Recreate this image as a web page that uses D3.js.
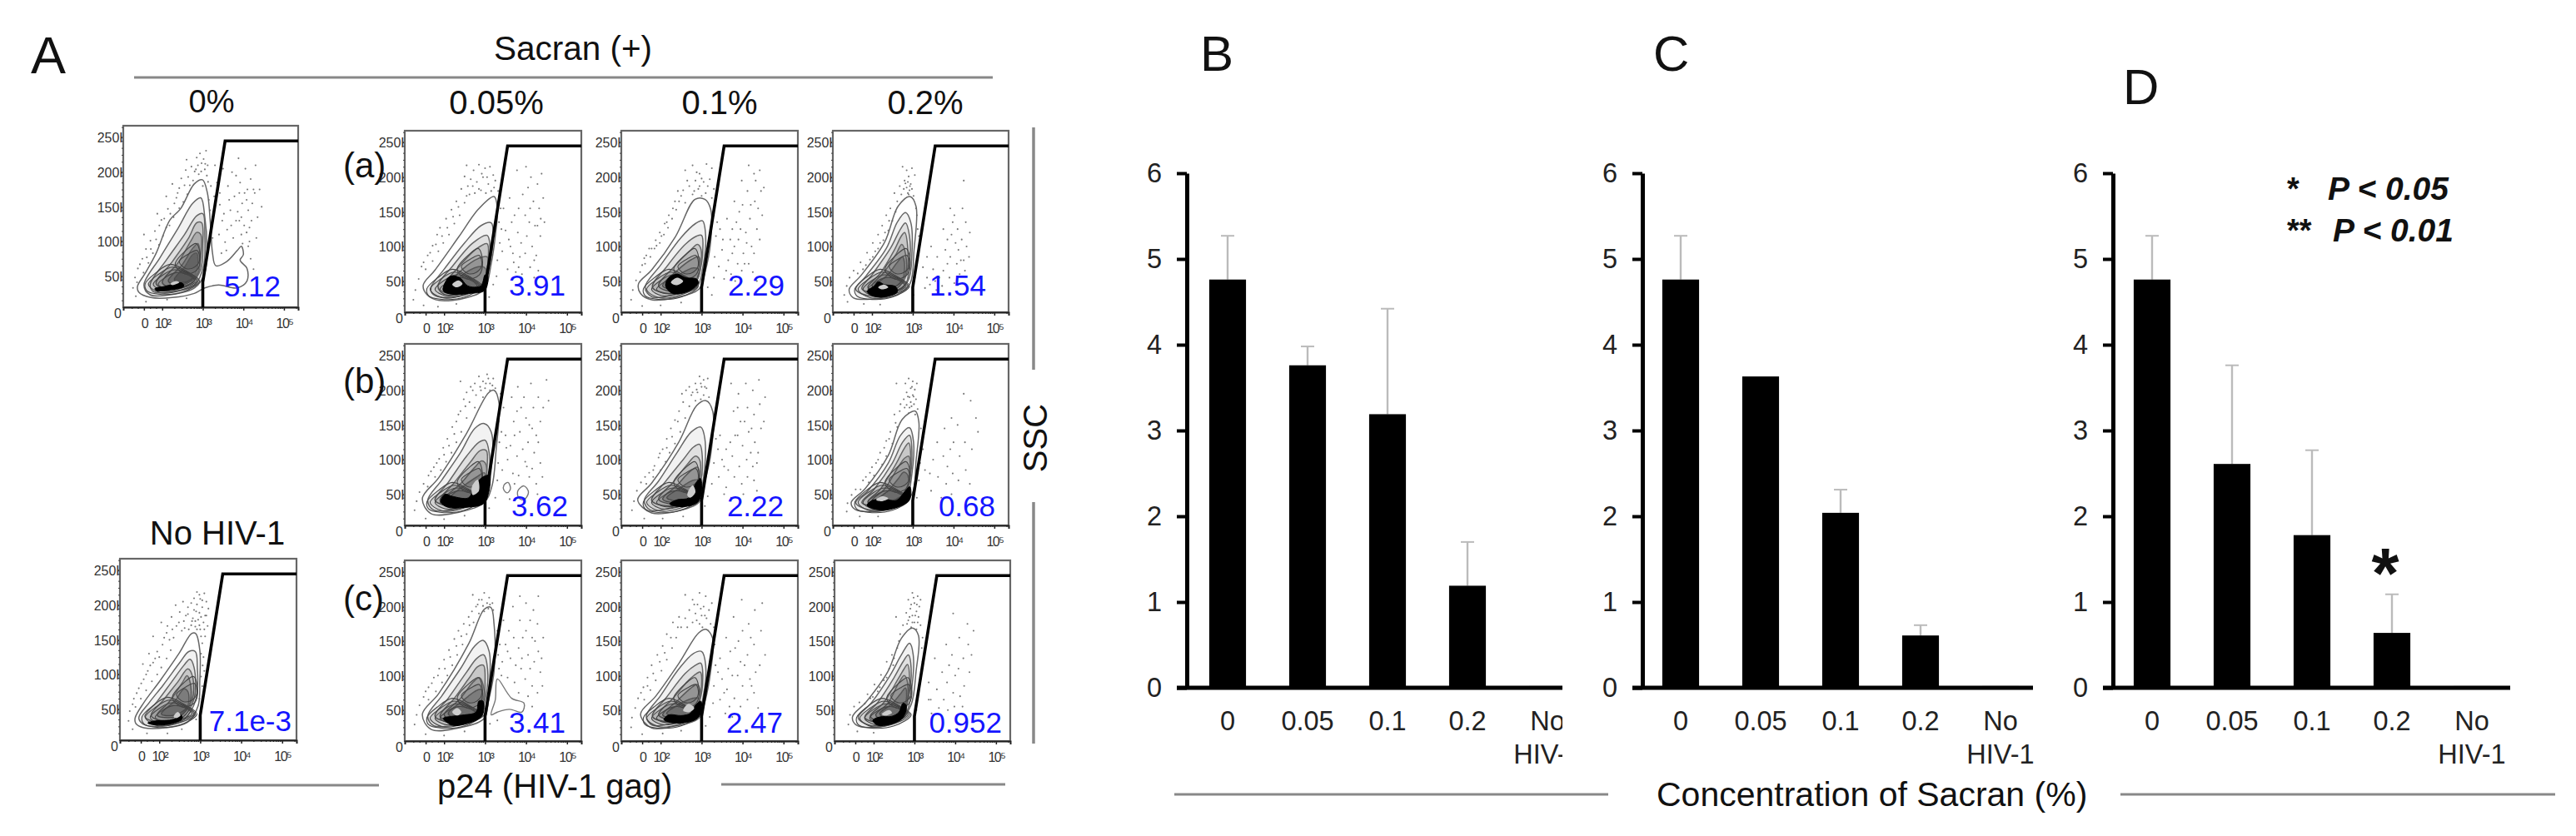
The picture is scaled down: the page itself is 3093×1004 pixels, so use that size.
<!DOCTYPE html>
<html>
<head>
<meta charset="utf-8">
<script src="https://cdn.jsdelivr.net/npm/d3@7"></script>
<style>
  html, body { margin: 0; padding: 0; background: #fff; }
  svg { display: block; font-family: "Liberation Sans", Arial, sans-serif; }
</style>
</head>
<body>
<svg id="fig" width="3093" height="1004"></svg>
<script>
// bar charts B, C, D: % p24 positive cells
const barCategories = ["0", "0.05", "0.1", "0.2", "No HIV-1"];
const barTicks = [0, 1, 2, 3, 4, 5, 6];
const barsB = [4.76, 3.76, 3.19, 1.19, 0.02];
const errsB = [5.27, 3.98, 4.42, 1.70, null];
const barsC = [4.76, 3.63, 2.04, 0.61, 0.02];
const errsC = [5.27, null, 2.31, 0.73, null];
const barsD = [4.76, 2.61, 1.78, 0.64, 0.02];
const errsD = [5.27, 3.76, 2.77, 1.09, null];

// flow plot axes: x in decades of p24, y in SSC-A (K)
const ssTicks = [0, 50, 100, 150, 200, 250];
const ssMinor = [10, 20, 30, 40, 60, 70, 80, 90, 110, 120, 130, 140, 160, 170, 180, 190, 210, 220, 230, 240, 260];
const p24Ticks = [1.55, 2, 3, 4, 5];
const p24Labels = ["0", "10²", "10³", "10⁴", "10⁵"];
const p24Minor = [1.25, 1.4, 1.7, 1.85, 2.3, 2.48, 2.6, 2.7, 2.78, 2.85, 2.9, 2.95, 3.3, 3.48, 3.6, 3.7, 3.78, 3.85, 3.9, 3.95, 4.3, 4.48, 4.6, 4.7, 4.78, 4.85, 4.9, 4.95, 5.3];
const gate = [[3, 0], [3, 36], [3.55, 240], [5.35, 240]];

// percent in gate
const gateLabels = ["5.12", "3.91", "2.29", "1.54", "3.62", "2.22", "0.68", "3.41", "2.47", "0.952", "7.1e-3"];

// tight contours of the dense low corner, alike in every plot
const lowRings = [
  [[1.58,34],[1.85,50],[2.2,62],[2.6,52],[2.92,38],[2.5,22],[1.9,19],[1.62,24]],
  [[1.66,33],[1.92,48],[2.25,58],[2.62,50],[2.88,38],[2.48,25],[1.95,21]],
  [[1.78,33],[2,46],[2.3,54],[2.64,48],[2.84,38],[2.45,27],[2.02,24]],
  [[1.9,33],[2.1,44],[2.35,50],[2.66,46],[2.8,38],[2.42,29],[2.1,27]],
  [[2.32,62],[2.62,84],[2.84,92],[2.94,72],[2.86,54],[2.55,48]],
  [[2.42,66],[2.68,78],[2.86,82],[2.92,68],[2.8,58],[2.58,56]]
];

// contour rings, outer to inner: [decade, SSC K]
const rings0 = [
  [[1.39,30],[1.59,50],[1.85,78],[2.19,126],[2.45,142],[2.79,178],[2.99,184],[3.11,166],[3.19,118],[3.24,78],[3.32,60],[3.59,66],[3.85,82],[3.95,88],[4,76],[3.92,68],[4.09,56],[4.09,38],[3.85,28],[3.39,32],[3.05,28],[2.79,20],[2.25,14],[1.72,14],[1.42,22]],
  [[1.55,32],[1.95,72],[2.4,115],[2.75,150],[2.95,158],[3.05,130],[3.1,90],[3.05,50],[2.8,28],[2.2,18],[1.7,18]],
  [[1.7,32],[2.1,68],[2.55,105],[2.85,132],[3,135],[3.05,105],[3.02,60],[2.8,32],[2.2,22],[1.8,22]],
  [[1.85,34],[2.25,66],[2.65,100],[2.85,122],[2.97,122],[3,90],[2.95,55],[2.7,34],[2.2,26]],
  [[2,36],[2.4,65],[2.7,95],[2.85,108],[2.95,105],[2.95,75],[2.85,45],[2.5,32],[2.15,30]],
  [[2.15,38],[2.5,62],[2.75,85],[2.88,92],[2.93,78],[2.88,50],[2.6,36],[2.3,33]],
  [[2.3,40],[2.55,58],[2.75,76],[2.85,78],[2.87,58],[2.75,42],[2.5,36]]
];
const core0 = [[1.82,27],[2.05,30],[2.49,35],[2.53,30],[2.19,25],[1.85,24]];
const hole0 = [[2.2,34],[2.35,38],[2.42,36],[2.25,32]];
const events0 = [[2.93,222],[3.02,214],[2.88,205],[3.05,199],[2.97,208],[2.8,196],[3.1,190],[2.72,203],[2.64,188],[2.9,192],[3.13,181],[2.55,176],[2.76,183],[2.47,186],[2.38,165],[2.62,163],[2.3,150],[2.52,152],[2.14,142],[2.42,143],[2.05,128],[2.28,130],[1.93,118],[2.18,118],[1.82,110],[2.02,103],[1.71,96],[1.92,90],[1.6,84],[1.77,78],[1.51,70],[1.66,64],[1.4,56],[1.54,50],[1.33,43],[1.28,28],[1.35,16],[1.6,8],[2.12,11],[2.6,13],[3.18,140],[3.22,120],[3.24,100],[3.15,155],[3,175],[2.85,216],[3.08,226],[2.6,213],[2.25,178],[2.1,160],[1.88,135],[1.55,105],
  [3.35,180],[3.42,148],[3.48,125],[3.4,105],[3.55,94],[3.62,175],[3.68,140],[3.6,112],[3.72,195],[3.78,160],[3.82,125],[3.75,100],[3.88,215],[3.92,180],[3.97,150],[3.86,138],[4.02,118],[3.95,105],[4.05,200],[4.1,170],[4.12,140],[4.08,108],[4.18,185],[4.22,150],[4.2,125],[4.15,95],[4.3,205],[4.28,165],[4.35,130],[4.32,100],[4.4,170],[3.5,200],[3.3,205],[3.46,78],[4.18,70],[4.25,55],[3.9,125],[3.98,92],[4.03,165],[4.45,145],
  [2.96,196],[3.06,207],[2.83,199],[2.68,176],[2.58,198],[2.42,172],[2.35,158],[2.2,135],[2.1,115],[1.98,126],[1.85,98],[1.72,84],[1.62,72],[1.45,62],[1.38,36],[3.2,175],[3.12,205],[3.28,160],[3.9,165],[3.82,190],[3.95,130],[4.08,155],[4.15,115],[3.7,118],[3.65,155],[3.52,135],[3.42,165],[3.58,82],[4.25,170],[4.12,88]];

const ringsA05 = [
  [[1.49,39],[1.78,61],[2.36,109],[2.84,149],[3.22,167],[3.3,150],[3.25,110],[3.15,70],[2.98,33],[2.55,21],[1.88,17],[1.59,25]],
  [[1.68,36],[2,62],[2.5,100],[2.9,125],[3.15,129],[3.2,110],[3.12,70],[2.95,38],[2.5,25],[1.9,22],[1.7,28]],
  [[1.85,38],[2.2,66],[2.7,100],[3.05,111],[3.12,95],[3.08,65],[2.92,38],[2.5,28],[2,26]],
  [[2,38],[2.35,65],[2.8,92],[3.05,99],[3.08,80],[3,50],[2.85,36],[2.4,30],[2.1,30]],
  [[2.1,38],[2.45,62],[2.85,78],[3.05,80],[3.05,60],[2.95,42],[2.5,32],[2.2,32]],
  [[2.2,38],[2.55,58],[2.9,66],[3.02,62],[3,45],[2.8,36],[2.4,33]]
];
const coreA05 = [[1.98,31],[2.02,42],[2.15,52],[2.38,50],[2.58,38],[2.9,38],[3,54],[3.06,54],[3,32],[2.6,27],[2.2,26]];
const holeA05 = [[2.2,40],[2.35,46],[2.45,41],[2.3,36]];
const eventsA05 = [[2.55,212],[2.72,205],[2.85,213],[3,208],[3.12,210],[3.2,198],[2.95,195],[2.8,188],[2.65,192],[3.08,185],[3.22,180],[2.5,196],[2.9,176],[2.75,172],[3.02,172],[2.62,170],[2.42,178],[2.5,158],[2.3,160],[2.38,140],[2.18,148],[2.25,128],[2.05,135],[2.12,112],[1.9,122],[1.98,100],[1.83,112],[1.86,88],[1.72,96],[1.72,74],[1.6,82],[1.55,62],[1.45,66],[1.38,48],[1.3,32],[1.25,18],[1.5,10],[1.85,8],[2.3,12],[3.32,175],[3.34,130],[3.36,100],[3.3,75],[3.2,40],[3.28,52],[3.1,22],
  [3.42,190],[3.45,150],[3.5,118],[3.42,88],[3.55,62],[3.6,165],[3.65,130],[3.62,95],[3.7,72],[3.78,205],[3.82,150],[3.8,115],[3.85,80],[3.75,58],[4,210],[4.05,180],[3.98,140],[4.02,110],[3.98,85],[4.12,195],[4.18,160],[4.22,125],[4.15,95],[4.1,65],[4.28,185],[4.32,150],[4.35,110],[4.25,82],[4.38,200],[4.42,165],[4.3,60],[4.45,130],[4.2,50],[3.9,55],
  [2.92,200],[3.05,195],[2.7,182],[2.85,178],[2.58,182],[2.55,168],[2.35,152],[2.22,138],[2.08,122],[1.95,110],[1.8,98],[1.66,86],[1.5,72],[3.15,175],[3.25,190],[3.4,120],[3.38,150],[3.58,105],[3.72,140],[3.68,85],[3.88,100],[3.92,170],[4.08,130],[4.1,150],[4.2,75],[4.28,125],[4.36,135],[3.82,65]];

const ringsA1 = [
  [[1.46,41],[1.78,61],[2.36,109],[2.84,163],[3.08,163],[3.22,149],[3.22,101],[3.08,57],[2.93,33],[2.36,21],[1.78,18],[1.51,27]],
  [[1.62,36],[2,68],[2.5,108],[2.85,128],[3.02,132],[3.1,110],[3.03,65],[2.88,36],[2.3,25],[1.8,22]],
  [[1.8,36],[2.15,66],[2.6,98],[2.88,110],[3,111],[3.03,90],[2.95,58],[2.75,34],[2.2,27]],
  [[1.95,38],[2.3,64],[2.7,88],[2.9,98],[2.98,92],[2.97,65],[2.8,40],[2.3,30]],
  [[2.05,38],[2.4,60],[2.75,76],[2.93,80],[2.97,62],[2.85,44],[2.4,33]],
  [[2.15,40],[2.5,56],[2.8,64],[2.93,62],[2.9,48],[2.5,35]]
];
const coreA1 = [[2.12,38],[2.2,50],[2.4,55],[2.6,50],[2.88,48],[2.92,42],[2.7,31],[2.3,27]];
const holeA1 = [[2.25,43],[2.4,50],[2.55,45],[2.4,39]];
const eventsA1 = [[2.6,205],[2.78,212],[2.95,200],[3.12,214],[3.25,208],[2.85,190],[3.05,188],[3.2,192],[2.7,182],[2.92,178],[3.1,172],[3.3,178],[2.55,176],[2.78,170],[2.45,160],[3,168],[2.38,148],[2.6,158],[2.28,135],[2.5,168],[2.18,122],[2.35,160],[2.08,112],[2.2,140],[1.98,100],[2.1,128],[1.85,92],[1.98,115],[1.75,80],[1.88,104],[1.62,70],[1.72,92],[1.5,58],[1.6,78],[1.4,46],[1.32,32],[1.28,18],[1.55,9],[2,10],[2.5,14],[3.3,140],[3.35,110],[3.32,80],[3.3,50],[3.15,36],[3.25,25],
  [3.45,120],[3.5,90],[3.42,66],[3.55,48],[3.62,135],[3.7,105],[3.65,75],[3.72,55],[3.8,160],[3.85,130],[3.8,95],[3.88,70],[3.82,45],[3.98,190],[4,155],[3.95,120],[4.02,85],[3.98,60],[4.15,212],[4.12,175],[4.18,135],[4.1,100],[4.15,70],[4.28,200],[4.3,160],[4.35,120],[4.28,85],[4.25,58],[4.42,205],[4.45,175],[4.48,140],[4.42,105],[4.52,180],[4.35,45],
  [2.88,202],[3,193],[2.95,182],[3.15,182],[2.82,175],[2.65,190],[2.42,175],[2.3,150],[2.15,130],[2.02,110],[1.9,96],[1.78,92],[1.65,82],[1.55,68],[3.25,165],[3.38,130],[3.52,105],[3.75,85],[3.9,105],[3.92,145],[4.08,115],[4.2,155],[4.22,95],[4.38,150],[4.32,190],[4.05,70],[3.6,60],[3.75,120]];

const ringsA2 = [
  [[1.44,33],[1.73,53],[2.31,101],[2.64,153],[2.93,167],[3.08,153],[3.03,89],[2.93,41],[2.6,25],[2.02,19],[1.54,21]],
  [[1.6,33],[1.85,52],[2.35,92],[2.62,130],[2.82,144],[2.95,130],[2.98,85],[2.88,45],[2.5,28],[2,23]],
  [[1.75,34],[2,54],[2.45,92],[2.7,120],[2.82,129],[2.92,110],[2.92,70],[2.8,38],[2.3,28]],
  [[1.9,36],[2.2,56],[2.55,90],[2.72,110],[2.8,115],[2.88,90],[2.85,55],[2.6,34],[2.15,30]],
  [[2,38],[2.3,58],[2.6,85],[2.73,98],[2.82,85],[2.82,55],[2.55,36],[2.2,33]],
  [[2.1,38],[2.4,55],[2.62,72],[2.75,80],[2.8,65],[2.7,42],[2.3,34]]
];
const coreA2 = [[1.88,30],[2.05,38],[2.15,44],[2.3,40],[2.58,37],[2.62,29],[2.3,22],[2,24]];
const holeA2 = [[2.15,36],[2.3,40],[2.4,36],[2.25,33]];
const eventsA2 = [[2.75,210],[2.85,205],[2.98,208],[3.05,198],[2.9,196],[2.8,190],[2.95,185],[2.85,180],[2.92,176],[2.78,178],[2.98,178],[2.88,172],[2.72,170],[3.02,168],[2.55,172],[2.62,160],[2.45,150],[2.5,132],[2.35,140],[2.4,118],[2.25,125],[2.28,104],[2.15,112],[2.15,92],[2.02,100],[2.02,80],[1.88,86],[1.85,68],[1.72,72],[1.65,56],[1.55,60],[1.45,50],[1.38,38],[1.32,25],[1.4,15],[1.8,12],[2.2,11],[3.1,140],[3.12,120],[3.14,95],[3.1,70],[3.05,50],[3.02,25],
  [3.25,65],[3.35,50],[3.3,35],[3.45,95],[3.5,62],[3.42,40],[3.6,80],[3.65,50],[3.58,32],[3.75,120],[3.8,90],[3.75,60],[3.72,38],[3.92,150],[3.95,112],[3.92,80],[3.9,50],[4.02,140],[4.05,100],[4.08,70],[4.02,42],[4.2,105],[4.18,75],[4.15,55],[4.25,190],[4.3,130],[4.32,95],[4.28,60],[4.4,115],[4.38,80],[4.22,150],
  [2.88,188],[2.93,182],[2.82,186],[2.9,170],[2.68,182],[2.58,145],[2.42,132],[2.32,115],[2.2,100],[2.08,88],[1.95,76],[1.78,62],[3.15,110],[3.08,150],[3.35,80],[3.55,45],[3.85,70],[3.98,130],[4.12,90],[4.1,120],[4.25,75],[3.85,105]];

const ringsB05 = [
  [[1.47,39],[1.87,69],[2.55,133],[3.08,191],[3.22,195],[3.34,177],[3.27,109],[3.17,57],[2.98,33],[2.36,19],[1.68,17]],
  [[1.6,36],[1.95,66],[2.4,105],[2.75,140],[2.98,147],[3.15,135],[3.15,80],[2.98,38],[2.4,25],[1.75,22]],
  [[1.78,36],[2.1,62],[2.55,100],[2.85,120],[3,123],[3.1,105],[3.08,65],[2.9,38],[2.3,28]],
  [[1.9,36],[2.25,62],[2.65,92],[2.88,108],[3.03,108],[3.05,85],[2.98,55],[2.7,34],[2.2,30]],
  [[2,38],[2.4,60],[2.75,84],[2.92,93],[3.02,88],[3,60],[2.8,40],[2.3,33]],
  [[2.15,40],[2.5,58],[2.8,70],[2.98,76],[3,60],[2.8,42],[2.4,36]]
];
const coreB05 = [[1.92,34],[2.02,45],[2.2,42],[2.6,40],[2.75,58],[2.95,70],[3.1,72],[3.08,45],[2.95,31],[2.5,26],[2.1,26]];
const holeB05 = [[2.7,44],[2.68,56],[2.82,66],[2.85,50]];
const loopsB05 = [[[3.46,58],[3.56,62],[3.62,53],[3.54,47],[3.46,51]], [[3.8,50],[3.95,57],[4.06,48],[3.95,37],[3.82,40]]];
const eventsB05 = [[2.85,215],[2.95,208],[3.05,218],[3.12,205],[3.2,212],[2.75,205],[3,198],[3.12,195],[3.25,198],[2.65,200],[2.9,195],[2.4,208],[2.55,192],[2.78,188],[2.95,185],[2.62,178],[2.48,182],[2.75,170],[2.4,165],[2.55,155],[2.3,150],[2.42,135],[2.2,142],[2.3,120],[2.08,125],[2.18,105],[1.98,112],[2.05,92],[1.88,96],[1.92,80],[1.75,84],[1.78,70],[1.62,72],[1.6,56],[1.5,60],[1.4,48],[1.33,35],[1.28,22],[1.55,10],[2,9],[2.5,14],[3.33,150],[3.35,120],[3.32,90],[3.3,65],[3.25,40],[3.1,25],
  [3.45,170],[3.5,130],[3.55,95],[3.42,80],[3.65,185],[3.7,150],[3.62,115],[3.68,75],[3.8,200],[3.78,165],[3.85,135],[3.78,100],[3.82,72],[3.95,185],[4,155],[4.05,120],[3.98,92],[4.08,70],[4.12,205],[4.18,170],[4.15,140],[4.2,105],[4.15,82],[4.25,60],[4.3,185],[4.35,150],[4.3,120],[4.35,90],[4.28,45],[4.42,170],[4.5,210],[4.55,180],[4.4,70],[3.6,38],
  [3.02,205],[2.88,200],[3.18,202],[3.08,212],[2.7,195],[2.52,172],[2.35,160],[2.25,132],[2.12,115],[2,102],[1.82,90],[1.68,78],[3.38,190],[3.4,135],[3.52,112],[3.72,130],[3.88,170],[3.92,110],[4.08,145],[4.25,130],[4.02,85],[3.72,60]];

const ringsB1 = [
  [[1.44,37],[1.78,61],[2.45,121],[2.88,173],[3.11,180],[3.27,165],[3.22,101],[3.03,53],[2.93,33],[2.36,20],[1.78,18]],
  [[1.6,36],[1.95,64],[2.4,105],[2.75,135],[2.98,142],[3.08,125],[3.05,70],[2.88,36],[2.3,26],[1.75,22]],
  [[1.78,36],[2.1,62],[2.55,95],[2.8,113],[2.95,117],[3.02,95],[2.95,58],[2.7,36],[2.2,28]],
  [[1.95,38],[2.3,62],[2.65,88],[2.85,100],[2.95,95],[2.95,65],[2.75,40],[2.3,31]],
  [[2.05,38],[2.4,58],[2.72,78],[2.9,84],[2.95,65],[2.8,42],[2.35,33]],
  [[2.15,40],[2.5,55],[2.78,65],[2.92,65],[2.88,48],[2.5,35]]
];
const coreB1 = [[2.22,31],[2.4,37],[2.7,40],[2.85,60],[2.97,68],[3,50],[2.9,33],[2.5,27]];
const holeB1 = [[2.65,44],[2.78,58],[2.85,48],[2.72,40]];
const eventsB1 = [[2.95,215],[3.05,210],[3.15,212],[2.85,205],[3,200],[3.12,198],[2.7,200],[2.9,192],[3.05,188],[2.75,188],[2.62,195],[3.18,185],[2.85,180],[2.55,178],[2.7,172],[2.45,165],[2.6,155],[2.35,152],[2.48,135],[2.25,140],[2.35,118],[2.15,125],[2.22,105],[2.05,110],[2.12,92],[1.95,98],[2,80],[1.85,86],[1.82,70],[1.72,76],[1.65,60],[1.52,62],[1.42,50],[1.35,35],[1.3,22],[1.6,10],[2.05,10],[2.55,13],[3.32,160],[3.35,125],[3.3,90],[3.25,60],[3.15,42],[3.08,28],
  [3.45,130],[3.5,95],[3.42,70],[3.55,45],[3.6,110],[3.65,80],[3.6,55],[3.72,205],[3.78,165],[3.82,130],[3.75,100],[3.8,70],[3.72,40],[3.9,190],[3.95,150],[4,115],[3.92,85],[3.98,60],[4.08,205],[4.12,170],[4.15,135],[4.1,95],[4.12,70],[4.02,45],[4.25,195],[4.28,160],[4.3,120],[4.25,85],[4.28,65],[4.4,210],[4.42,175],[4.45,140],[4.38,105],[4.52,150],[4.55,185],[4.35,50],
  [2.98,205],[2.88,196],[3.08,200],[2.78,192],[2.98,182],[2.52,190],[2.42,150],[2.28,128],[2.15,112],[1.98,104],[1.82,80],[1.62,70],[3.35,170],[3.4,110],[3.55,85],[3.7,120],[3.88,130],[3.88,170],[4.05,150],[4.2,105],[4.35,90],[4.22,140]];

const ringsB2 = [
  [[1.49,33],[1.83,53],[2.4,101],[2.74,153],[3.06,165],[3.15,149],[3.08,93],[2.98,45],[2.6,27],[2.02,20],[1.59,23]],
  [[1.6,33],[1.9,50],[2.4,90],[2.7,130],[2.92,141],[3.02,120],[2.98,75],[2.85,42],[2.4,27],[1.9,23]],
  [[1.75,33],[2.05,52],[2.5,90],[2.75,120],[2.92,130],[2.98,105],[2.92,65],[2.75,38],[2.2,28]],
  [[1.9,34],[2.2,52],[2.6,90],[2.8,112],[2.9,119],[2.95,95],[2.88,58],[2.6,35],[2.1,29]],
  [[2,36],[2.3,52],[2.65,85],[2.8,97],[2.9,100],[2.92,75],[2.8,45],[2.3,32]],
  [[2.15,38],[2.4,50],[2.65,68],[2.78,77],[2.88,72],[2.85,50],[2.5,36]]
];
const coreB2 = [[1.88,29],[2,36],[2.3,38],[2.6,36],[2.82,50],[2.93,56],[2.93,38],[2.7,28],[2.2,22]];
const holeB2 = [[2.1,37],[2.25,42],[2.4,39],[2.25,35]];
const eventsB2 = [[2.9,212],[3,208],[3.1,205],[2.82,205],[2.95,198],[3.05,196],[2.85,192],[3,188],[2.92,185],[3.08,182],[2.78,182],[2.95,178],[3.03,175],[2.85,174],[2.92,170],[3.12,168],[2.6,205],[2.7,175],[2.55,160],[2.62,142],[2.45,135],[2.5,118],[2.35,122],[2.35,100],[2.2,105],[2.25,88],[2.1,90],[2.05,72],[1.95,76],[1.92,62],[1.78,65],[1.72,52],[1.6,52],[1.5,44],[1.4,32],[1.38,20],[1.7,13],[2.15,13],[3.2,140],[3.22,115],[3.18,90],[3.15,65],[3.1,40],
  [3.42,75],[3.5,95],[3.45,50],[3.6,120],[3.62,70],[3.7,40],[3.78,140],[3.75,100],[3.82,60],[3.95,155],[3.92,110],[3.98,75],[3.95,45],[4.1,145],[4.15,100],[4.12,65],[4.25,190],[4.28,120],[4.3,80],[4.42,180],[4.45,110],[4.55,155],[4.6,135],[4.4,60],
  [2.98,200],[2.88,186],[3.02,186],[2.97,172],[2.8,170],[2.9,162],[3.06,160],[2.68,165],[2.58,148],[2.42,125],[2.3,112],[2.15,95],[2,84],[1.85,70],[3.25,110],[3.3,80],[4,120],[3.85,85]];

const ringsC05 = [
  [[1.47,39],[1.87,69],[2.6,141],[2.98,191],[3.14,194],[3.22,169],[3.22,101],[3.08,57],[2.98,33],[2.36,19],[1.68,17]],
  [[1.6,36],[1.95,66],[2.4,105],[2.75,138],[2.95,146],[3.1,130],[3.1,80],[2.98,38],[2.4,25],[1.75,22]],
  [[1.78,36],[2.1,62],[2.55,100],[2.8,120],[2.97,125],[3.06,105],[3.02,65],[2.85,38],[2.3,27]],
  [[1.9,36],[2.25,62],[2.62,92],[2.82,108],[2.96,110],[3,85],[2.95,55],[2.65,32],[2.2,29]],
  [[2,38],[2.4,62],[2.7,85],[2.86,92],[2.96,80],[2.95,55],[2.7,34],[2.25,31]],
  [[2.1,40],[2.45,58],[2.75,72],[2.9,75],[2.95,60],[2.8,40],[2.35,32]]
];
const coreC05 = [[1.98,33],[2.2,36],[2.5,38],[2.78,42],[2.85,58],[2.95,58],[2.93,37],[2.6,26],[2.2,23]];
const holeC05 = [[2.2,42],[2.32,48],[2.42,42],[2.32,37]];
const loopsC05 = [[[3.3,90],[3.65,62],[3.95,55],[3.9,42],[3.6,46],[3.3,42],[3.15,38],[3.25,60]]];
const eventsC05 = [[2.7,212],[2.85,205],[2.98,215],[3.1,208],[3.18,200],[2.78,195],[2.95,196],[3.08,192],[2.68,188],[3.2,190],[2.85,185],[2.6,180],[2.72,172],[2.48,170],[2.55,155],[2.35,160],[2.45,140],[2.25,148],[2.32,125],[2.12,132],[2.2,110],[2,118],[2.08,95],[1.88,105],[1.95,85],[1.75,92],[1.8,72],[1.62,78],[1.62,60],[1.5,64],[1.4,52],[1.33,38],[1.28,24],[1.55,10],[2,8],[2.5,14],[3.3,160],[3.32,125],[3.34,105],[3.12,25],
  [3.45,175],[3.5,140],[3.42,115],[3.55,92],[3.45,75],[3.68,195],[3.7,150],[3.62,120],[3.72,85],[3.85,210],[3.85,175],[3.82,135],[3.88,105],[3.82,70],[4,200],[4,160],[4.05,125],[3.98,90],[4.05,65],[4.18,190],[4.15,150],[4.2,115],[4.15,80],[4.3,210],[4.28,170],[4.3,130],[4.35,100],[4.28,70],[4.42,150],[4.4,80],[4.15,50],[3.3,30],
  [2.92,205],[3.05,200],[2.98,188],[3.12,198],[2.82,198],[2.62,168],[2.42,152],[2.3,138],[2.15,122],[2.02,105],[1.85,95],[1.7,84],[1.55,72],[3.36,140],[3.4,95],[3.58,160],[3.55,130],[3.75,110],[3.92,150],[3.9,120],[4.1,105],[4.22,145],[4.1,175],[4.38,120]];

const ringsC1 = [
  [[1.51,39],[1.88,65],[2.45,113],[2.93,157],[3.11,162],[3.27,149],[3.22,101],[3.08,57],[2.93,33],[2.36,22],[1.78,19]],
  [[1.65,36],[2,66],[2.45,105],[2.8,127],[3,130],[3.1,110],[3.04,65],[2.88,36],[2.3,26],[1.8,23]],
  [[1.8,36],[2.15,64],[2.6,98],[2.85,110],[2.98,113],[3.03,92],[2.95,58],[2.72,34],[2.2,28]],
  [[1.95,38],[2.3,62],[2.68,88],[2.88,98],[2.97,100],[2.98,70],[2.8,40],[2.3,31]],
  [[2.05,38],[2.4,58],[2.72,76],[2.9,82],[2.97,65],[2.82,42],[2.38,33]],
  [[2.15,40],[2.5,55],[2.78,62],[2.93,62],[2.9,48],[2.5,35]]
];
const coreC1 = [[2.08,31],[2.2,38],[2.5,37],[2.72,40],[2.85,52],[2.98,58],[2.98,40],[2.85,31],[2.4,26]];
const holeC1 = [[2.55,44],[2.68,54],[2.82,48],[2.7,42]];
const eventsC1 = [[2.6,212],[2.78,205],[2.95,215],[3.1,210],[3.25,200],[2.9,198],[3.05,195],[3.18,190],[2.7,190],[2.85,185],[3,182],[3.12,178],[2.6,178],[2.78,172],[2.95,170],[3.22,170],[2.45,180],[2.5,165],[2.3,172],[2.38,150],[2.15,155],[2.28,135],[2.05,138],[2.15,118],[1.92,125],[2.02,102],[1.78,110],[1.88,88],[1.68,92],[1.75,74],[1.58,78],[1.6,60],[1.45,62],[1.38,48],[1.3,34],[1.28,20],[1.55,10],[2.05,11],[2.5,15],[3.32,140],[3.34,110],[3.3,80],[3.28,55],[3.2,35],[3.1,22],
  [3.45,120],[3.5,90],[3.45,60],[3.58,40],[3.6,150],[3.65,105],[3.62,75],[3.68,50],[3.78,180],[3.82,135],[3.75,95],[3.8,62],[3.75,35],[3.98,205],[4,160],[3.95,115],[4,80],[3.95,50],[4.15,170],[4.12,125],[4.18,90],[4.12,60],[4.3,190],[4.28,140],[4.32,100],[4.28,70],[4.45,160],[4.48,200],[4.42,110],[4.55,125],[4.38,48],
  [2.82,198],[2.98,192],[3.08,182],[2.88,175],[3.02,165],[2.65,165],[2.42,165],[2.25,150],[2.1,128],[1.98,115],[1.82,98],[1.68,80],[1.52,70],[3.3,165],[3.4,100],[3.55,70],[3.7,130],[3.9,145],[3.88,95],[4.05,110],[4.2,150],[4.22,80]];

const ringsC2 = [
  [[1.48,35],[1.82,57],[2.35,101],[2.68,149],[2.95,164],[3.1,153],[3.04,101],[2.92,53],[2.63,29],[2.06,20],[1.58,23]],
  [[1.62,34],[1.95,56],[2.4,95],[2.68,125],[2.88,142],[2.97,125],[2.93,75],[2.8,42],[2.4,26],[1.9,23]],
  [[1.78,34],[2.1,56],[2.5,92],[2.72,115],[2.85,125],[2.92,105],[2.86,65],[2.7,36],[2.2,27]],
  [[1.92,36],[2.25,56],[2.6,90],[2.75,105],[2.83,111],[2.88,90],[2.82,55],[2.55,33],[2.1,29]],
  [[2.05,38],[2.35,55],[2.62,85],[2.75,95],[2.83,85],[2.78,50],[2.5,34],[2.2,31]],
  [[2.15,40],[2.45,54],[2.65,68],[2.78,77],[2.8,60],[2.65,40],[2.3,33]]
];
const coreC2 = [[1.98,30],[2.15,35],[2.45,36],[2.62,42],[2.72,55],[2.8,52],[2.73,35],[2.5,26],[2.1,23]];
const holeC2 = [[2.2,39],[2.38,45],[2.45,41],[2.3,37]];
const eventsC2 = [[2.95,215],[3.08,210],[3.15,205],[2.85,205],[3,200],[3.12,195],[2.9,192],[3.05,188],[2.8,186],[2.95,182],[3.1,180],[2.85,175],[3,172],[3.15,168],[2.72,168],[2.92,165],[3.05,162],[2.65,155],[2.55,180],[2.58,135],[2.45,125],[2.48,110],[2.32,115],[2.32,92],[2.18,96],[2.15,78],[2.02,82],[1.98,64],[1.85,68],[1.78,54],[1.65,56],[1.52,50],[1.42,38],[1.38,24],[1.6,14],[2,12],[3.18,135],[3.2,115],[3.16,90],[3.1,70],[3.05,45],
  [3.35,85],[3.4,60],[3.42,40],[3.5,120],[3.55,75],[3.6,48],[3.68,100],[3.72,60],[3.78,140],[3.8,85],[3.82,45],[3.95,185],[3.92,125],[3.95,70],[3.98,50],[4.1,150],[4.08,105],[4.12,65],[4.2,120],[4.22,80],[4.18,50],[4.3,170],[4.32,140],[4.35,100],[4.4,125],[4.45,160],
  [2.98,208],[3.06,198],[2.92,198],[3.02,182],[2.88,180],[3.08,172],[2.95,172],[2.82,170],[2.62,145],[2.5,120],[2.38,105],[2.25,88],[2.1,72],[1.92,62],[3.2,150],[3.35,60],[3.85,110],[4,95]];

const ringsNo = [
  [[1.41,32],[1.62,54],[2.02,86],[2.49,126],[2.79,154],[2.89,154],[2.99,130],[2.99,86],[2.95,50],[2.69,26],[2.15,18],[1.62,18],[1.43,24]],
  [[1.5,32],[1.75,54],[2.1,80],[2.5,112],[2.72,128],[2.88,128],[2.93,105],[2.9,60],[2.6,30],[2.1,21],[1.65,22]],
  [[1.65,34],[1.95,56],[2.3,84],[2.6,108],[2.75,117],[2.85,105],[2.85,60],[2.55,32],[2.1,25]],
  [[1.8,36],[2.1,58],[2.45,84],[2.7,103],[2.82,90],[2.8,58],[2.5,34],[2.05,28]],
  [[1.95,36],[2.25,56],[2.55,82],[2.68,93],[2.77,78],[2.72,50],[2.4,34]],
  [[2.05,38],[2.4,58],[2.6,74],[2.7,70],[2.68,48],[2.35,36]]
];
const coreNo = [[1.72,25],[1.9,28],[2.35,30],[2.52,37],[2.56,31],[2.3,24],[1.9,22]];
const holeNo = [[2.35,34],[2.45,41],[2.52,36],[2.42,32]];
const eventsNo = [[2.92,214],[3.1,212],[2.85,205],[3,204],[3.15,200],[2.78,198],[2.92,196],[3.05,192],[3.2,190],[2.85,188],[2.98,184],[3.12,180],[2.7,182],[2.82,176],[2.95,174],[3.08,170],[2.78,166],[2.88,164],[3,160],[3.18,165],[2.72,160],[3.12,150],[2.6,172],[2.5,185],[2.4,195],[2.55,158],[2.42,165],[2.3,178],[2.35,148],[2.18,155],[2.28,130],[2.08,138],[2.18,118],[1.95,128],[2.05,105],[1.85,112],[1.95,95],[1.72,100],[1.82,85],[1.62,88],[1.68,72],[1.5,75],[1.55,60],[1.38,60],[1.42,48],[1.28,42],[1.25,28],[1.35,16],[1.7,10],[2.2,10],[2.55,16],[3.05,140],[3.08,120],[3.1,100],[3.05,78],[3,42],[2.9,30],[2.2,165],[2.05,170],[1.85,150],[1.75,125],[1.6,110],
  [2.98,210],[3.05,202],[2.9,186],[3.02,178],[2.88,172],[2.98,166],[2.8,172],[2.92,160],[3.1,160],[2.65,180],[2.62,162],[2.48,170],[2.32,160],[2.25,145],[2.12,148],[2,120],[1.9,118],[1.78,108],[1.68,95],[1.56,82],[1.45,68],[1.35,52],[3.02,150],[3.02,125],[3.06,108],[3.02,92],[2.98,60],[3.15,180],[2.7,192],[2.58,200]];

// frame position of each flow plot on the page
const plots = [
  {box: [148, 151, 358, 369], rings: rings0, core: core0, hole: hole0, loops: [], events: events0, labelEnd: 337, labelBase: 356},
  {box: [486, 157, 698, 375], rings: ringsA05, core: coreA05, hole: holeA05, loops: [], events: eventsA05, labelEnd: 679, labelBase: 355},
  {box: [746, 157, 958, 375], rings: ringsA1, core: coreA1, hole: holeA1, loops: [], events: eventsA1, labelEnd: 942, labelBase: 355},
  {box: [1000, 157, 1211, 375], rings: ringsA2, core: coreA2, hole: holeA2, loops: [], events: eventsA2, labelEnd: 1184, labelBase: 355},
  {box: [486, 413, 698, 631], rings: ringsB05, core: coreB05, hole: holeB05, loops: loopsB05, events: eventsB05, labelEnd: 682, labelBase: 620},
  {box: [746, 413, 958, 631], rings: ringsB1, core: coreB1, hole: holeB1, loops: [], events: eventsB1, labelEnd: 941, labelBase: 620},
  {box: [1000, 413, 1211, 631], rings: ringsB2, core: coreB2, hole: holeB2, loops: [], events: eventsB2, labelEnd: 1195, labelBase: 620},
  {box: [486, 673, 698, 890], rings: ringsC05, core: coreC05, hole: holeC05, loops: loopsC05, events: eventsC05, labelEnd: 679, labelBase: 880},
  {box: [746, 673, 958, 890], rings: ringsC1, core: coreC1, hole: holeC1, loops: [], events: eventsC1, labelEnd: 940, labelBase: 880},
  {box: [1002, 673, 1213, 890], rings: ringsC2, core: coreC2, hole: holeC2, loops: [], events: eventsC2, labelEnd: 1203, labelBase: 880},
  {box: [144, 671, 356, 889], rings: ringsNo, core: coreNo, hole: holeNo, loops: [], events: eventsNo, labelEnd: 350, labelBase: 878}
];

const svg = d3.select("#fig");
const defs = svg.append("defs");
defs.append("filter").attr("id", "soft").append("feGaussianBlur").attr("stdDeviation", 0.6);

function label(txt, x, y, size, opts = {}) {
  return svg.append("text")
    .attr("x", x).attr("y", y)
    .attr("font-size", size)
    .attr("text-anchor", opts.anchor || "start")
    .attr("font-weight", opts.weight || "normal")
    .attr("font-style", opts.style || "normal")
    .attr("fill", "#111")
    .text(txt);
}

function hline(x1, x2, y) {
  svg.append("line").attr("x1", x1).attr("x2", x2).attr("y1", y).attr("y2", y)
    .attr("stroke", "#888").attr("stroke-width", 3);
}

function vline(x, y1, y2) {
  svg.append("line").attr("x1", x).attr("x2", x).attr("y1", y1).attr("y2", y2)
    .attr("stroke", "#888").attr("stroke-width", 3.5);
}

function drawPlot(p, i) {
  const [x0, y0, x1, y1] = p.box;
  const x = d3.scaleLinear().domain([1.04, 5.35]).range([x0, x1]);
  const y = d3.scaleLinear().domain([0, 262]).range([y1, y0]);
  const g = svg.append("g");

  // y labels sit partly under the frame, the last character gets cut
  const yAxis = d3.axisLeft(y).tickValues(ssTicks).tickSize(0).tickPadding(-6)
    .tickFormat(d => d === 0 ? "0" : d + "K");
  const ya = g.append("g").attr("transform", `translate(${x0},0)`).call(yAxis);
  ya.select(".domain").remove();
  ya.selectAll("text").attr("font-size", 16).attr("fill", "#333").attr("font-family", "inherit")
    .attr("dy", "0.62em").attr("text-anchor", "end");
  ya.selectAll(".tick").filter(d => d === 0).select("text").attr("x", -2).attr("dy", "0.8em");

  g.append("rect").attr("x", x0).attr("y", y0).attr("width", x1 - x0).attr("height", y1 - y0)
    .attr("fill", "#fff").attr("stroke", "#666").attr("stroke-width", 2.2);

  const ym = d3.axisLeft(y).tickValues(ssMinor).tickSize(2).tickFormat("");
  g.append("g").attr("transform", `translate(${x0},0)`).call(ym)
    .call(s => s.select(".domain").remove()).selectAll("line").attr("stroke", "#444").attr("stroke-width", 1);
  const xm = d3.axisBottom(x).tickValues(p24Minor).tickSize(2).tickFormat("");
  g.append("g").attr("transform", `translate(0,${y1})`).call(xm)
    .call(s => s.select(".domain").remove()).selectAll("line").attr("stroke", "#333").attr("stroke-width", 1.2);
  const xAxis = d3.axisBottom(x).tickValues(p24Ticks).tickSize(4).tickPadding(10)
    .tickFormat((d, k) => p24Labels[k]);
  const xa = g.append("g").attr("transform", `translate(0,${y1})`).call(xAxis);
  xa.select(".domain").attr("stroke", "#222").attr("stroke-width", 2);
  xa.selectAll("line").attr("stroke", "#222").attr("stroke-width", 1.5);
  xa.selectAll("text").attr("font-size", 16).attr("fill", "#333").attr("font-family", "inherit")
    .attr("letter-spacing", -1.5);

  const marks = g.append("g").attr("filter", "url(#soft)");
  marks.selectAll("circle.ev").data(p.events).join("circle").attr("class", "ev")
    .attr("cx", d => x(d[0])).attr("cy", d => y(d[1]))
    .attr("r", 1.05).attr("fill", "#555").attr("opacity", 0.8);

  const ring = d3.line().x(d => x(d[0])).y(d => y(d[1])).curve(d3.curveCatmullRomClosed.alpha(0.5));
  marks.selectAll("path.ring").data(p.rings).join("path").attr("class", "ring")
    .attr("d", ring)
    .attr("fill", "#000")
    .attr("fill-opacity", (d, k) => k === 0 ? 0 : 0.02 + k * 0.03)
    .attr("stroke", "#666").attr("stroke-width", 1.5);
  marks.selectAll("path.low").data(lowRings).join("path").attr("class", "low")
    .attr("d", ring).attr("fill", "#000").attr("fill-opacity", 0.07)
    .attr("stroke", "#444").attr("stroke-width", 1.1);
  marks.selectAll("path.loop").data(p.loops).join("path").attr("class", "loop")
    .attr("d", ring).attr("fill", "#fff").attr("stroke", "#777").attr("stroke-width", 1.4);
  marks.append("path").attr("d", ring(p.core)).attr("fill", "#000").attr("stroke", "#000").attr("stroke-width", 1);
  marks.append("path").attr("d", ring(p.hole)).attr("fill", "#ccc");

  // gate
  g.append("path").datum(gate)
    .attr("d", d3.line().x(d => x(d[0])).y(d => y(d[1])))
    .attr("fill", "none").attr("stroke", "#000").attr("stroke-width", 3.6);

  g.append("text").attr("x", p.labelEnd).attr("y", p.labelBase)
    .attr("text-anchor", "end").attr("font-size", 35).attr("fill", "#1414ff")
    .text(gateLabels[i]);
}

plots.forEach(drawPlot);

// panel A heading and frame text
label("A", 37, 88, 63);
label("Sacran (+)", 688, 72, 40.5, {anchor: "middle"});
hline(161, 1192, 93);
label("0%", 254, 135, 38, {anchor: "middle"});
label("0.05%", 596, 137, 40, {anchor: "middle"});
label("0.1%", 864, 137, 40, {anchor: "middle"});
label("0.2%", 1111, 137, 40, {anchor: "middle"});
label("(a)", 412, 213, 42);
label("(b)", 412, 472, 42);
label("(c)", 412, 733, 42);
label("No HIV-1", 261, 654, 40, {anchor: "middle"});
label("p24 (HIV-1 gag)", 525, 958, 40);
hline(115, 455, 943);
hline(866, 1207, 942);
vline(1241, 153, 444);
vline(1241, 603, 893);
label("SSC", 0, 0, 40, {anchor: "middle"}).attr("transform", "translate(1257,526) rotate(-90)");

// bar panels
const yBar = d3.scaleLinear().domain([0, 6]).range([826, 208]);

function drawBars(vals, errs, left, axisX, endX, clipId) {
  const x = d3.scaleBand().domain(barCategories).range([left, left + 480])
    .paddingInner(0.54).paddingOuter(0.27);
  const g = svg.append("g");
  const inner = g.append("g");
  if (clipId) {
    defs.append("clipPath").attr("id", clipId).append("rect")
      .attr("x", left).attr("y", 0).attr("width", endX - left).attr("height", 1004);
    inner.attr("clip-path", `url(#${clipId})`);
  }
  const rows = barCategories.map((c, i) => ({c, v: vals[i], e: errs[i]}));

  inner.selectAll("line.err").data(rows.filter(d => d.e !== null)).join("line").attr("class", "err")
    .attr("x1", d => x(d.c) + x.bandwidth() / 2).attr("x2", d => x(d.c) + x.bandwidth() / 2)
    .attr("y1", d => yBar(d.v)).attr("y2", d => yBar(d.e))
    .attr("stroke", "#bbb").attr("stroke-width", 2.4);
  inner.selectAll("line.cap").data(rows.filter(d => d.e !== null)).join("line").attr("class", "cap")
    .attr("x1", d => x(d.c) + x.bandwidth() / 2 - 8).attr("x2", d => x(d.c) + x.bandwidth() / 2 + 8)
    .attr("y1", d => yBar(d.e)).attr("y2", d => yBar(d.e))
    .attr("stroke", "#bbb").attr("stroke-width", 2);
  inner.selectAll("rect.bar").data(rows).join("rect").attr("class", "bar")
    .attr("x", d => x(d.c)).attr("width", x.bandwidth())
    .attr("y", d => yBar(d.v)).attr("height", d => yBar(0) - yBar(d.v))
    .attr("fill", "#000");

  const xa = inner.append("g").attr("transform", `translate(0,${yBar(0)})`)
    .call(d3.axisBottom(x).tickSize(0).tickPadding(28));
  xa.select(".domain").remove();
  xa.selectAll("text").attr("font-size", 32.5).attr("fill", "#222").attr("font-family", "inherit")
    .each(function (d) {
      const words = d.split(" ");
      if (words.length < 2) return;
      const t = d3.select(this).text(null);
      t.append("tspan").attr("x", 0).text(words[0]);
      t.append("tspan").attr("x", 0).attr("dy", 40).text(words[1]);
    });

  g.append("line").attr("x1", axisX - 12).attr("x2", endX)
    .attr("y1", yBar(0)).attr("y2", yBar(0)).attr("stroke", "#000").attr("stroke-width", 5);
  const ya = g.append("g").attr("transform", `translate(${axisX},0)`)
    .call(d3.axisLeft(yBar).tickValues(barTicks).tickFormat(d3.format("d")).tickSize(12).tickSizeOuter(0).tickPadding(18));
  ya.select(".domain").attr("stroke", "#000").attr("stroke-width", 5);
  ya.selectAll("line").attr("stroke", "#000").attr("stroke-width", 4);
  ya.selectAll("text").attr("font-size", 32.5).attr("fill", "#222").attr("font-family", "inherit");
}

drawBars(barsB, errsB, 1426, 1425, 1876, "clipB");
drawBars(barsC, errsC, 1970, 1972, 2441);
drawBars(barsD, errsD, 2536, 2537, 3014);

label("B", 1441, 85, 60);
label("C", 1985, 85, 60);
label("D", 2549, 125, 60);

label("*", 2746, 240, 38, {weight: "bold"});
label("P < 0.05", 2795, 240, 39, {weight: "bold", style: "italic"});
label("**", 2746, 290, 38, {weight: "bold"});
label("P < 0.01", 2801, 290, 39, {weight: "bold", style: "italic"});
label("*", 2864, 718, 85, {anchor: "middle", weight: "bold"});

label("Concentration of Sacran (%)", 1989, 968, 41);
hline(1410, 1931, 954);
hline(2546, 3068, 954);
</script>
</body>
</html>
